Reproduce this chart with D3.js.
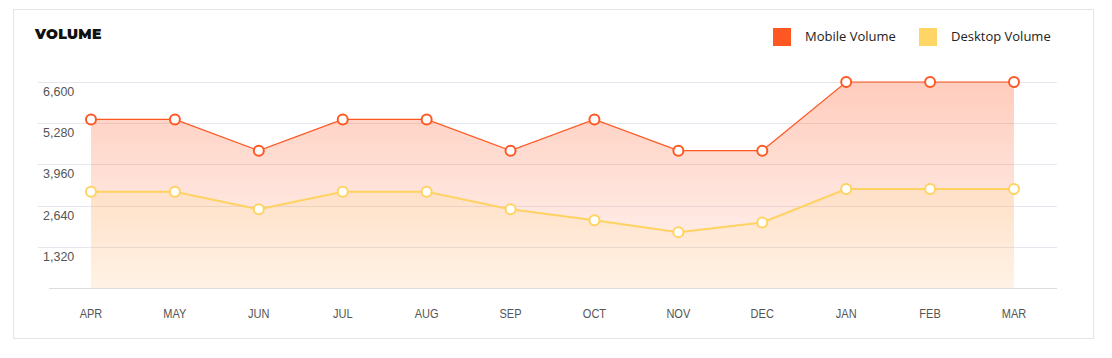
<!DOCTYPE html>
<html>
<head>
<meta charset="utf-8">
<script src="https://cdn.jsdelivr.net/npm/d3@7"></script>
<style>
  body { margin: 0; background: #fff; }
  #chart { width: 1112px; height: 358px; }
  .tick-y { font-family: "Liberation Sans", Arial, sans-serif; font-size: 12.5px; fill: #555; }
  .tick-x { font-family: "Liberation Sans", Arial, sans-serif; font-size: 12px; fill: #555; }
  .legend-text { font-family: "Open Sans", "Noto Sans", sans-serif; font-size: 13px; fill: #222; }
  .title { font-family: "Montserrat", "DejaVu Sans", sans-serif; font-weight: 900; font-size: 14px; fill: #111; }
</style>
</head>
<body>
<div id="chart"></div>
<script>
// Datos
const months = ["APR", "MAY", "JUN", "JUL", "AUG", "SEP", "OCT", "NOV", "DEC", "JAN", "FEB", "MAR"];
const mobileVolume = [5400, 5400, 4400, 5400, 5400, 4400, 5400, 4400, 4400, 6600, 6600, 6600];
const desktopVolume = [3080, 3080, 2520, 3080, 3080, 2520, 2170, 1790, 2100, 3170, 3170, 3170];
const yTicks = [1320, 2640, 3960, 5280, 6600];
const seriesNames = ["Mobile Volume", "Desktop Volume"];
const seriesColors = ["#ff5722", "#ffd262"];

const W = 1112, H = 358;
const svg = d3.select("#chart").append("svg").attr("width", W).attr("height", H);

// Tarjeta
svg.append("rect")
  .attr("x", 13.5).attr("y", 9.5).attr("width", 1080).attr("height", 329)
  .attr("fill", "#fff").attr("stroke", "#e3e3e8");

svg.append("text").attr("class", "title").attr("x", 35).attr("y", 39)
  .attr("letter-spacing", "0.3").text("VOLUME");

// Escalas
const x = d3.scalePoint().domain(months).range([91, 1014]);
const y = d3.scaleLinear().domain([0, 6600]).range([288, 82]);

// Gradientes
const defs = svg.append("defs");
const gMob = defs.append("linearGradient").attr("id", "grad-mobile")
  .attr("gradientUnits", "userSpaceOnUse").attr("x1", 0).attr("x2", 0)
  .attr("y1", y(6600)).attr("y2", y(0));
gMob.append("stop").attr("offset", "0%").attr("stop-color", "#ff5722").attr("stop-opacity", 0.3);
gMob.append("stop").attr("offset", "100%").attr("stop-color", "#ff5722").attr("stop-opacity", 0.05);
const gDesk = defs.append("linearGradient").attr("id", "grad-desktop")
  .attr("gradientUnits", "userSpaceOnUse").attr("x1", 0).attr("x2", 0)
  .attr("y1", y(3300)).attr("y2", y(0));
gDesk.append("stop").attr("offset", "0%").attr("stop-color", "#ffd262").attr("stop-opacity", 0.15);
gDesk.append("stop").attr("offset", "100%").attr("stop-color", "#ffd262").attr("stop-opacity", 0.1);

// Rejilla
svg.append("g").selectAll("line").data(yTicks).join("line")
  .attr("x1", 38).attr("x2", 1057)
  .attr("y1", (d) => Math.round(y(d)) + 0.5).attr("y2", (d) => Math.round(y(d)) + 0.5)
  .attr("stroke", "#e6e7ee");
svg.append("line")
  .attr("x1", 49).attr("x2", 1057)
  .attr("y1", Math.round(y(0)) + 0.5).attr("y2", Math.round(y(0)) + 0.5)
  .attr("stroke", "#dcdde3");

svg.append("g").selectAll("text").data(yTicks).join("text")
  .attr("class", "tick-y")
  .attr("x", 43).attr("y", (d) => y(d) + 14)
  .text((d) => d3.format(",")(d));

svg.append("g").selectAll("text").data(months).join("text")
  .attr("class", "tick-x")
  .attr("x", (d) => x(d)).attr("y", 318)
  .attr("text-anchor", "middle")
  .attr("transform", (d) => `translate(${x(d)},0) scale(0.92,1) translate(${-x(d)},0)`)
  .text((d) => d);

// Áreas
const area = d3.area().x((d, i) => x(months[i])).y0(y(0)).y1((d) => y(d));
svg.append("path").datum(mobileVolume).attr("d", area).attr("fill", "url(#grad-mobile)");
svg.append("path").datum(desktopVolume).attr("d", area).attr("fill", "url(#grad-desktop)");

// Líneas
const line = d3.line().x((d, i) => x(months[i])).y((d) => y(d));
svg.append("path").datum(mobileVolume).attr("d", line)
  .attr("fill", "none").attr("stroke", seriesColors[0]).attr("stroke-width", 1.2);
svg.append("path").datum(desktopVolume).attr("d", line)
  .attr("fill", "none").attr("stroke", seriesColors[1]).attr("stroke-width", 2);

// Puntos
[mobileVolume, desktopVolume].forEach((vals, k) => {
  svg.append("g").selectAll("circle").data(vals).join("circle")
    .attr("cx", (d, i) => x(months[i]))
    .attr("cy", (d) => y(d))
    .attr("r", 5)
    .attr("fill", "#fff")
    .attr("stroke", seriesColors[k])
    .attr("stroke-width", 2);
});

// Leyenda
const legendX = [773, 919];
seriesNames.forEach((name, k) => {
  svg.append("rect").attr("x", legendX[k]).attr("y", 28).attr("width", 18).attr("height", 18)
    .attr("fill", k === 0 ? "#ff5722" : "#ffd566");
  svg.append("text").attr("class", "legend-text")
    .attr("x", legendX[k] + 32).attr("y", 41).text(name);
});
</script>
</body>
</html>
